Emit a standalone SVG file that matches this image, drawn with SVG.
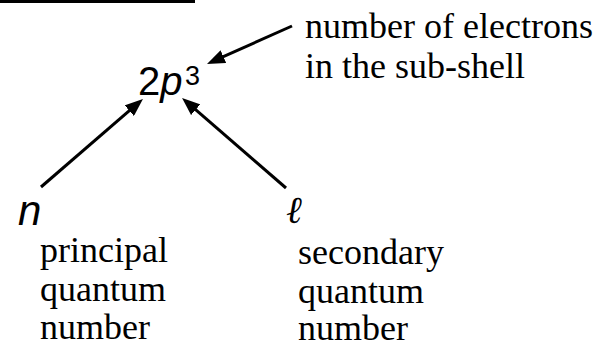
<svg xmlns="http://www.w3.org/2000/svg" width="602" height="348" viewBox="0 0 602 348">
  <style>
    .lbl { font-size: 36px; fill: #000; }
    .sym { fill: #000; }
    .conn { stroke: #000; stroke-width: 3; fill: none; marker-end: url(#ah); }
  </style>
  <defs>
    <marker id="ah" markerUnits="userSpaceOnUse" markerWidth="18" markerHeight="14" refX="10" refY="7" orient="auto">
      <path d="M0,0 L18,7 L0,14 z" fill="#000"/>
    </marker>
  </defs>
  <rect x="0" y="0" width="195" height="3" fill="#000"/>
  <g id="config" font-family="Liberation Sans, Arial, sans-serif">
    <text class="sym" x="138" y="95" font-size="40">2<tspan font-style="italic">p</tspan></text>
    <text class="sym" x="185" y="85" font-size="27">3</text>
  </g>
  <g id="electrons" font-family="Liberation Serif, Times New Roman, serif">
    <text class="lbl" x="305" y="38">number of electrons</text>
    <text class="lbl" x="305" y="78">in the sub-shell</text>
  </g>
  <g id="n" font-family="Liberation Serif, Times New Roman, serif">
    <text class="sym" x="18" y="225" font-size="42" font-style="italic" font-family="Liberation Sans, Arial, sans-serif">n</text>
    <text class="lbl" x="40" y="262">principal</text>
    <text class="lbl" x="40" y="301">quantum</text>
    <text class="lbl" x="40" y="339">number</text>
  </g>
  <g id="l" font-family="Liberation Serif, Times New Roman, serif">
    <text x="286" y="223" font-family="DejaVu Serif, serif" font-size="38" font-style="italic">ℓ</text>
    <text class="lbl" x="298" y="264">secondary</text>
    <text class="lbl" x="298" y="303">quantum</text>
    <text class="lbl" x="298" y="340">number</text>
  </g>
  <g id="connectors">
    <line class="conn" x1="41" y1="187" x2="136.9" y2="104.2"/>
    <line class="conn" x1="286" y1="188" x2="188.1" y2="103.2"/>
    <line class="conn" x1="292" y1="26" x2="214.3" y2="60.7"/>
  </g>
</svg>
